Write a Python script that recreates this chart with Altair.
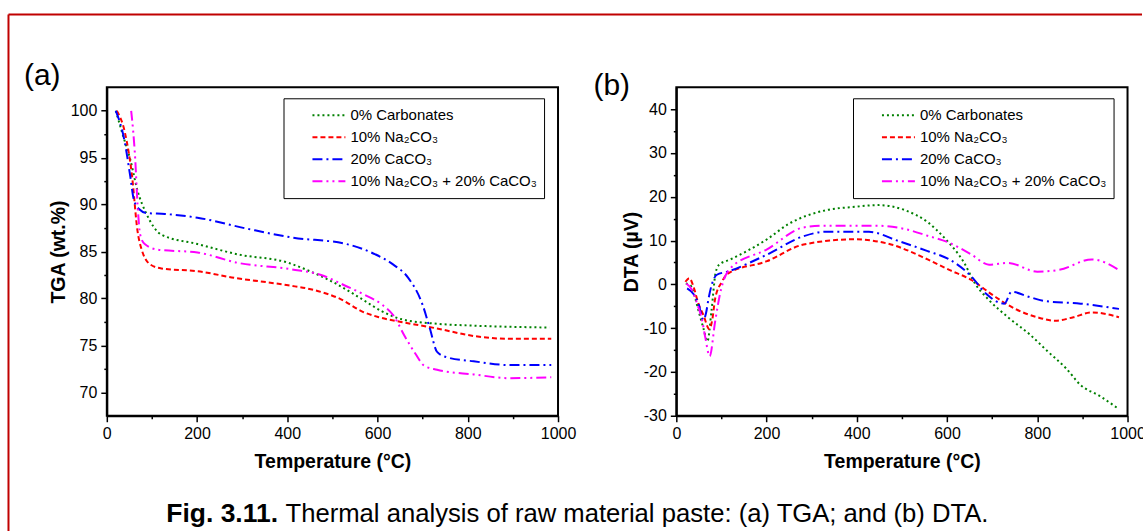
import altair as alt
import pandas as pd

SERIES = ["0% Carbonates", "10% Na₂CO₃", "20% CaCO₃", "10% Na₂CO₃ + 20% CaCO₃"]
COLORS = ["#008000", "#ff0000", "#0000ff", "#ff00ff"]
DASHES = [[2, 3], [5, 3], [10, 4, 2, 4], [10, 4, 2, 4, 2, 4]]

# ---- (a) TGA (wt.%) ----
tga_t_0 = [20, 35, 52, 68, 88, 121, 201, 290, 402, 450, 507, 563, 611, 652, 732, 813, 981]
tga_v_0 = [100, 97.5, 94.8, 91.5, 89.0, 86.8, 85.8, 84.7, 83.8, 82.9, 81.6, 80.0, 78.6, 77.8, 77.3, 77.1, 76.9]
tga_t_1 = [22, 40, 56, 68, 76, 97, 121, 201, 282, 402, 459, 515, 571, 603, 652, 732, 813, 893, 985]
tga_v_1 = [100, 97.7, 93.0, 87.2, 85.4, 83.6, 83.2, 82.9, 82.2, 81.4, 80.9, 80.0, 78.5, 78.0, 77.5, 76.8, 76.0, 75.7, 75.7]
tga_t_2 = [20, 40, 52, 60, 72, 88, 129, 201, 314, 410, 531, 595, 635, 668, 700, 716, 732, 756, 813, 893, 985]
tga_v_2 = [100, 96.6, 93.0, 90.5, 89.5, 89.1, 89.0, 88.6, 87.4, 86.5, 85.8, 84.7, 83.6, 82.2, 79.3, 76.8, 74.3, 73.7, 73.3, 72.9, 72.9]
tga_t_3 = [54, 63, 68, 74, 84, 113, 201, 290, 410, 475, 531, 571, 611, 635, 660, 684, 704, 732, 813, 893, 985]
tga_v_3 = [100, 94.8, 90.1, 86.8, 85.8, 85.2, 84.9, 83.8, 83.1, 82.5, 81.3, 80.4, 79.3, 78.2, 76.0, 74.1, 72.8, 72.4, 71.9, 71.5, 71.6]

# ---- (b) DTA (µV) ----
dta_t_0 = [21, 31, 51, 60, 69, 78, 87, 95, 120, 201, 249, 330, 395, 447, 508, 557, 597, 638, 662, 693, 735, 783, 823, 864, 896, 937, 981]
dta_v_0 = [0.2, -0.2, -6.7, -10.0, -13.0, -6.0, 2.6, 4.5, 5.7, 10.3, 13.8, 16.9, 17.7, 18.1, 16.9, 14.2, 10.3, 4.9, 0.2, -3.6, -7.5, -11.4, -15.3, -19.2, -23.0, -25.4, -28.5]
dta_t_1 = [20, 29, 38, 49, 60, 73, 80, 86, 101, 113, 201, 282, 395, 476, 557, 605, 654, 702, 751, 800, 840, 880, 921, 981]
dta_v_1 = [0.6, 1.4, -0.5, -4.4, -7.0, -10.2, -7.9, -3.3, 0.6, 2.4, 5.3, 9.1, 10.3, 9.1, 5.7, 3.3, 1.0, -2.5, -5.6, -7.5, -8.3, -7.5, -6.4, -7.5]
dta_t_2 = [24, 38, 49, 60, 66, 71, 79, 90, 113, 201, 282, 330, 427, 492, 557, 605, 654, 686, 727, 743, 783, 816, 896, 981]
dta_v_2 = [-0.9, -2.2, -4.4, -8.1, -6.5, -3.5, 0.1, 2.2, 2.9, 6.8, 11.0, 12.0, 12.0, 9.9, 7.6, 5.7, 1.8, -2.1, -4.4, -1.7, -2.9, -3.8, -4.4, -5.6]
dta_t_3 = [22, 35, 46, 57, 64, 74, 86, 97, 119, 201, 282, 330, 443, 508, 557, 605, 654, 693, 735, 800, 848, 921, 981]
dta_v_3 = [0.2, -1.3, -4.4, -8.1, -12.0, -16.4, -8.5, -2.1, 3.6, 8.0, 13.0, 13.4, 13.4, 12.6, 11.1, 9.5, 6.8, 4.5, 4.9, 2.9, 3.3, 5.7, 3.3]

TGA_TICKS = [70, 72.5, 75, 77.5, 80, 82.5, 85, 87.5, 90, 92.5, 95, 97.5, 100]
DTA_TICKS = [-30, -25, -20, -15, -10, -5, 0, 5, 10, 15, 20, 25, 30, 35, 40]
X_TICKS = [0, 100, 200, 300, 400, 500, 600, 700, 800, 900, 1000]

CAPTION_BOLD = "Fig. 3.11."
CAPTION_TEXT = "Thermal analysis of raw material paste: (a) TGA; and (b) DTA."

FONT = "Liberation Sans"
BORDER = "#c00000"


def frame(ts, vs):
    rows = []
    for name, t, v in zip(SERIES, ts, vs):
        for i, (a, b) in enumerate(zip(t, v)):
            rows.append({"T": a, "v": b, "series": name, "i": i})
    return pd.DataFrame(rows)


tga = frame([tga_t_0, tga_t_1, tga_t_2, tga_t_3], [tga_v_0, tga_v_1, tga_v_2, tga_v_3])
dta = frame([dta_t_0, dta_t_1, dta_t_2, dta_t_3], [dta_v_0, dta_v_1, dta_v_2, dta_v_3])


def is_major(m):
    return f"abs(datum.value % {m}) < 1e-9"


def xaxis():
    return alt.Axis(
        values=X_TICKS,
        labelExpr=f"{is_major(200)} ? '' + datum.value : ''",
        tickSize={"condition": {"test": is_major(200), "value": 6}, "value": 3},
        labelOverlap=False,
        labelFlush=False,
        grid=False,
        title="Temperature (°C)",
        titlePadding=11,
    )


def yaxis(vals, major, title):
    return alt.Axis(
        values=vals,
        labelExpr=f"{is_major(major)} ? '' + datum.value : ''",
        tickSize={"condition": {"test": is_major(major), "value": 6}, "value": 3},
        labelOverlap=False,
        labelFlush=False,
        grid=False,
        title=title,
        titlePadding=2,
    )


def legend():
    return alt.Legend(
        title=None,
        orient="none",
        legendX=177,
        legendY=11,
        strokeColor="black",
        fillColor="white",
        padding=7,
        symbolOffset=21,
        symbolType="stroke",
        symbolSize=1089,
        symbolStrokeWidth=2,
        labelFontSize=15,
        labelFont=FONT,
        labelColor="black",
        labelLimit=400,
        clipHeight=20,
        rowPadding=2,
        labelOffset=4,
    )


def panel(df, ydom, yticks, major, ytitle, label, title_offset):
    return alt.Chart(df).mark_line(strokeWidth=2, interpolate="monotone").encode(
        x=alt.X("T:Q", scale=alt.Scale(domain=[0, 1000], nice=False), axis=xaxis()),
        y=alt.Y("v:Q", scale=alt.Scale(domain=ydom, nice=False, zero=False), axis=yaxis(yticks, major, ytitle)),
        color=alt.Color("series:N", scale=alt.Scale(domain=SERIES, range=COLORS), legend=legend()),
        strokeDash=alt.StrokeDash("series:N", scale=alt.Scale(domain=SERIES, range=DASHES), legend=legend()),
        detail="series:N",
        order="i:Q",
    ).properties(
        width=452,
        height=329,
        title=alt.TitleParams(label, anchor="start", frame="group", fontSize=30, fontWeight="normal",
                              font=FONT, dx=-83, offset=title_offset, color="black"),
    )


a = panel(tga, [67.5, 102.5], TGA_TICKS, 5, "TGA (wt.%)", "(a)", -4)
b = panel(dta, [-30, 45], DTA_TICKS, 10, "DTA (µV)", "(b)", -14)

cap = alt.Chart(pd.DataFrame({"t": [CAPTION_BOLD], "u": [CAPTION_TEXT]}))
cap_bold = cap.mark_text(font=FONT, fontSize=26.5, fontWeight="bold", align="right", baseline="alphabetic",
                         color="black").encode(text="t:N", x=alt.value(171.5), y=alt.value(46))
cap_norm = cap.mark_text(font=FONT, fontSize=25.7, align="left", baseline="alphabetic",
                         color="black").encode(text="u:N", x=alt.value(179), y=alt.value(46))
# page frame (red box around the figure)
frame_left = cap.mark_rule(color=BORDER, strokeWidth=2).encode(
    x=alt.value(-98.5), y=alt.value(-462), y2=alt.value(56))
frame_top = cap.mark_rule(color=BORDER, strokeWidth=2).encode(
    x=alt.value(-98.5), x2=alt.value(1037), y=alt.value(-462))
caption = alt.layer(cap_bold, cap_norm, frame_left, frame_top).properties(
    width=452, height=40, view=alt.ViewBackground(stroke="transparent"))

chart = alt.concat(
    a, b, caption, columns=2, bounds="flush",
    spacing=alt.RowColnumber(row=60, column=118.5),
).resolve_scale(color="independent", strokeDash="independent").configure(
    font=FONT,
    padding={"left": 6, "top": 12, "right": -4, "bottom": 0},
).configure_view(
    stroke="black", strokeWidth=2
).configure_axis(
    labelFont=FONT, labelFontSize=16, labelColor="black", labelPadding=4,
    titleFont=FONT, titleFontSize=19.5, titleFontWeight="bold", titleColor="black",
    domainColor="black", domainWidth=2, tickColor="black", tickWidth=1.5,
)

chart.save("out.html", embed_options={"renderer": "svg", "actions": False})
